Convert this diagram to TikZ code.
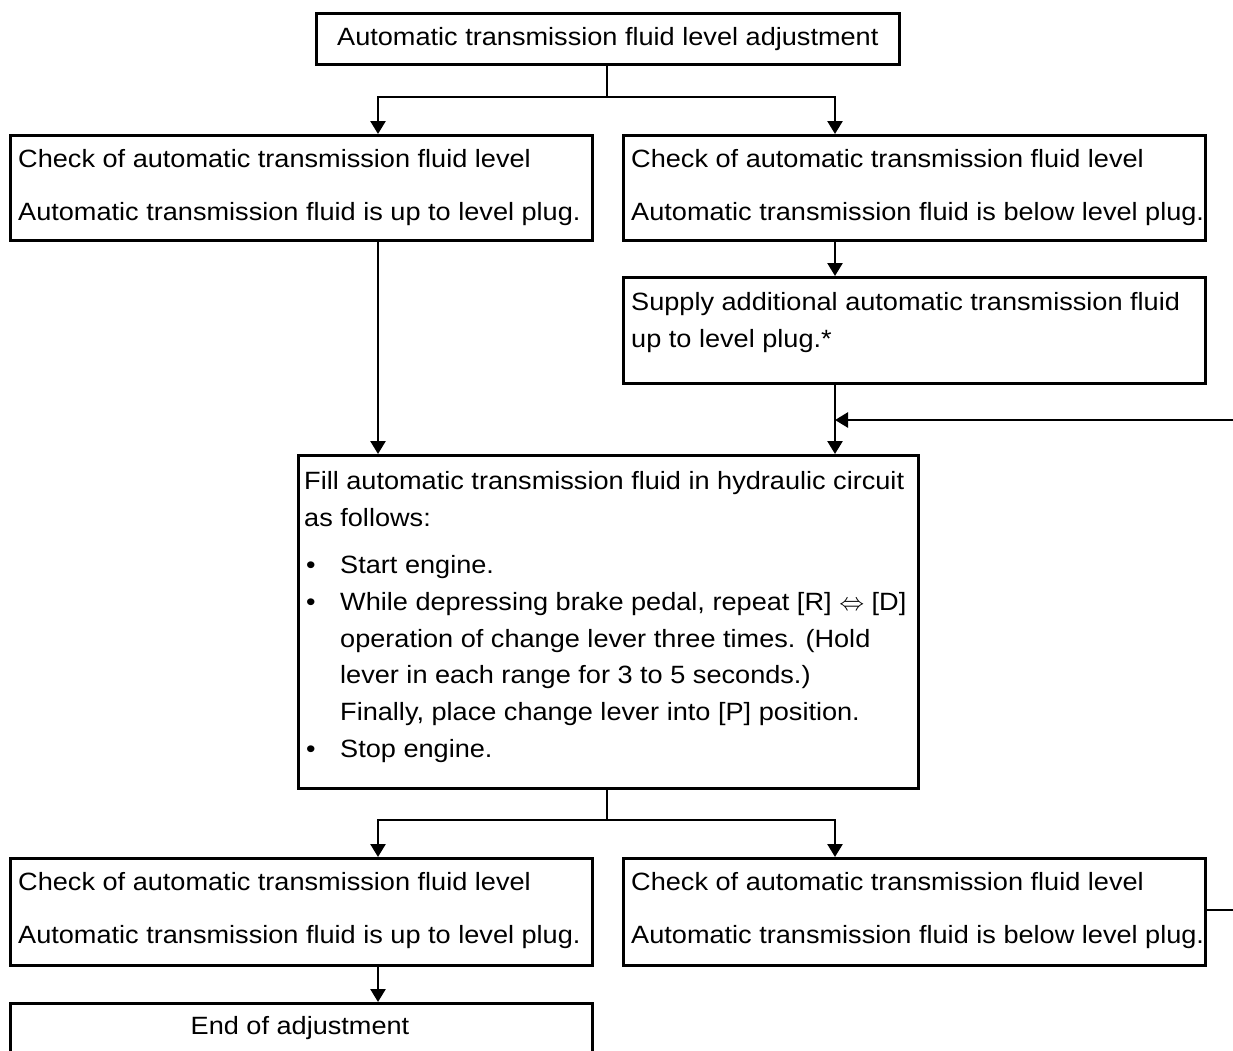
\documentclass[tikz,border=0pt]{standalone}
\usepackage{fontspec}
\setmainfont{Liberation Sans}[FakeStretch=1.085]
\usetikzlibrary{arrows.meta}
\begin{document}
\begin{tikzpicture}[x=1pt,y=-1pt,
  box/.style={draw,line width=2.6pt,rectangle,inner sep=0pt,anchor=north west},
  txt/.style={anchor=base west,inner sep=0pt,font=\fontsize{25}{30}\selectfont},
  ln/.style={line width=2.6pt},
  arr/.style={line width=2.6pt,-{Triangle[width=15pt,length=13pt]}}]
\useasboundingbox (0,0) rectangle (1233,1050);
% boxes
\node[box,minimum width=583pt,minimum height=51pt,font=\fontsize{25}{30}\selectfont] (top) at (315,12) {Automatic transmission fluid level adjustment};
\node[box,minimum width=582pt,minimum height=105pt] (l1) at (9,134) {};
\node[box,minimum width=582pt,minimum height=105pt] (r1) at (622,134) {};
\node[box,minimum width=582pt,minimum height=106pt] (r2) at (622,276) {};
\node[box,minimum width=620pt,minimum height=333pt] (c) at (297,454) {};
\node[box,minimum width=582pt,minimum height=107pt] (bl) at (9,857) {};
\node[box,minimum width=582pt,minimum height=107pt] (br) at (622,857) {};
\node[box,minimum width=582pt,minimum height=80pt] (en) at (9,1002) {};
% texts
\node[txt] (l1a) at (18,167) {Check of automatic transmission fluid level};
\node[txt] (l1b) at (18,220) {Automatic transmission fluid is up to level plug.};
\node[txt] (r1a) at (631,167) {Check of automatic transmission fluid level};
\node[txt] (r1b) at (631,220) {Automatic transmission fluid is below level plug.};
\node[txt] (r2a) at (631,310) {Supply additional automatic transmission fluid};
\node[txt] (r2b) at (631,347) {up to level plug.*};
\node[txt] (c1) at (304,489) {Fill automatic transmission fluid in hydraulic circuit};
\node[txt] (c2) at (304,526) {as follows:};
\node[txt] (c3b) at (306,573) {•};
\node[txt] (c3) at (340,573) {Start engine.};
\node[txt] (c4b) at (306,610) {•};
\node[txt] (c4) at (340,610) {While depressing brake pedal, repeat [R] $\Leftrightarrow$ [D]};
\node[txt] (c5) at (340,647) {operation of change lever three times. (Hold};
\node[txt] (c6) at (340,683) {lever in each range for 3 to 5 seconds.)};
\node[txt] (c7) at (340,720) {Finally, place change lever into [P] position.};
\node[txt] (c8b) at (306,757) {•};
\node[txt] (c8) at (340,757) {Stop engine.};
\node[txt] (bla) at (18,890) {Check of automatic transmission fluid level};
\node[txt] (blb) at (18,943) {Automatic transmission fluid is up to level plug.};
\node[txt] (bra) at (631,890) {Check of automatic transmission fluid level};
\node[txt] (brb) at (631,943) {Automatic transmission fluid is below level plug.};
\node[anchor=base,inner sep=0pt,font=\fontsize{25}{30}\selectfont] (ent) at (300,1034) {End of adjustment};
% coordinates
\coordinate (xL) at (378,0);
\coordinate (xR) at (835,0);
\coordinate (s1) at (607,97);
\coordinate (s2) at (607,820);
\coordinate (fb) at (1233,420);
\coordinate (fb2) at (1233,910);
% connectors
\draw[ln] (top.south -| s1) -- (s1);
\draw[arr] (s1) -| (l1.north -| xL);
\draw[arr] (s1) -| (r1.north -| xR);
\draw[arr] (r1.south -| xR) -- (r2.north -| xR);
\draw[arr] (l1.south -| xL) -- (c.north -| xL);
\draw[arr] (r2.south -| xR) -- (c.north -| xR);
\draw[arr] (fb) -- (fb -| xR);
\draw[ln] (c.south -| s2) -- (s2);
\draw[arr] (s2) -| (bl.north -| xL);
\draw[arr] (s2) -| (br.north -| xR);
\draw[ln] (br.east |- fb2) -- (fb2);
\draw[arr] (bl.south -| xL) -- (en.north -| xL);
\end{tikzpicture}
\end{document}
